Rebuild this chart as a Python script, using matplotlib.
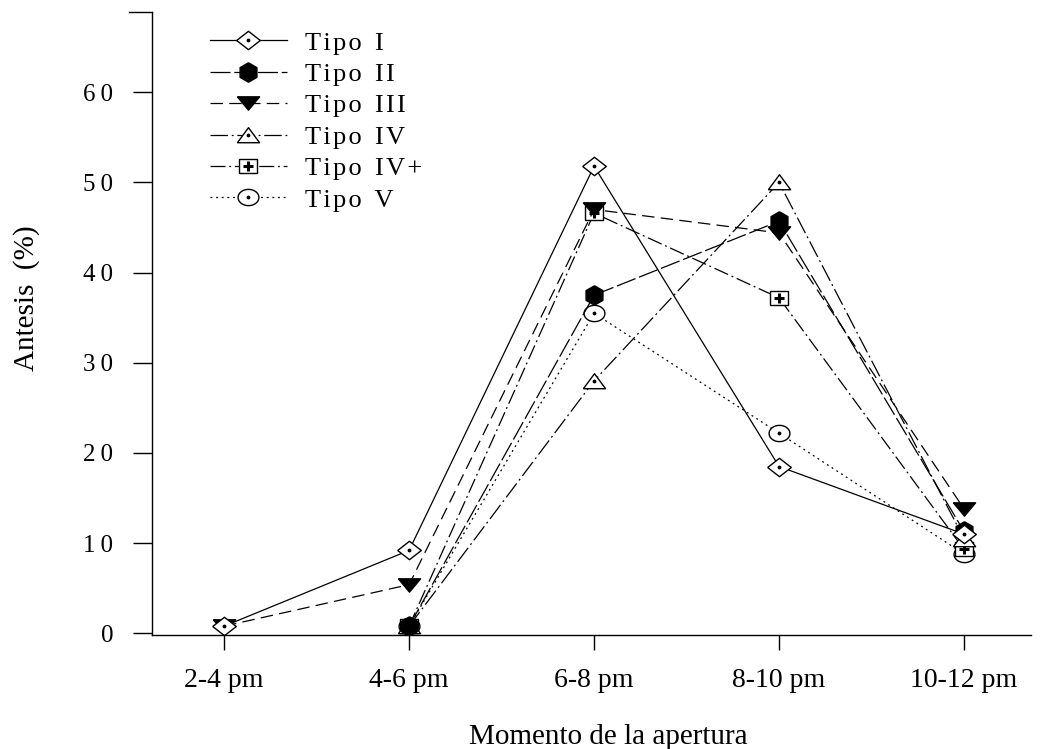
import numpy as np
import matplotlib.pyplot as plt
from matplotlib.legend_handler import HandlerTuple
from matplotlib.ticker import FuncFormatter

plt.rcParams['font.family'] = ['Liberation Serif', 'DejaVu Serif']

# ─── Datos ────────────────────────────────────────────────────────────────────
momentos = ["2-4 pm", "4-6 pm", "6-8 pm", "8-10 pm", "10-12 pm"]
tipo_i   = [0.8, 9.2, 51.8, 18.5, 11.0]
tipo_ii  = [np.nan, 0.8, 37.5, 45.7, 11.3]
tipo_iii = [0.8, 5.4, 47.0, 44.4, 13.8]
tipo_iv  = [np.nan, 0.8, 28.0, 50.0, 10.5]
tipo_ivp = [np.nan, 0.8, 46.6, 37.2, 9.3]
tipo_v   = [np.nan, 0.8, 35.5, 22.2, 8.8]

x = np.arange(len(momentos))


def spaced(s, sp="\u2009"):
    # espaciado de letras como en el original
    return sp.join(s).replace(sp + " " + sp, "  ")


# marcadores algo achatados (el original está estirado en horizontal)
k = 0.78
m_diamond = [(-1, 0), (0, k), (1, 0), (0, -k), (-1, 0)]
m_tri_up = [(-1, -0.65), (1, -0.65), (0, 0.7), (-1, -0.65)]
m_tri_dn = [(-1, 0.6), (1, 0.6), (0, -0.6), (-1, 0.6)]
m_square = [(-1, -k), (1, -k), (1, k), (-1, k), (-1, -k)]
ang = np.linspace(0, 2 * np.pi, 61)
m_ellipse = list(zip(np.cos(ang), k * np.sin(ang)))
ang6 = np.deg2rad(np.arange(90, 451, 60))
m_hex = list(zip(np.cos(ang6), 1.0 * np.sin(ang6)))

fig = plt.figure(figsize=(10.46, 7.49), dpi=100)
ax = fig.add_axes([0.1453, 0.152, 0.84, 0.832])

lw = 0.9
# (valores, etiqueta, linestyle, marker, relleno, ms, marcador central)
series = [
    (tipo_v,   "Tipo V",    (0, (1.5, 3)),          m_ellipse, False, 15, "."),
    (tipo_ivp, "Tipo IV+",  (0, (12, 3, 1.5, 3)),   m_square,  False, 13, "+"),
    (tipo_iv,  "Tipo IV",   (0, (14, 3, 1.5, 3)),   m_tri_up,  False, 16, "."),
    (tipo_iii, "Tipo III",  (0, (10, 5)),           m_tri_dn,  True,  16, None),
    (tipo_ii,  "Tipo II",   (0, (16, 3)),           m_hex,     True,  14, None),
    (tipo_i,   "Tipo I",    "-",                    m_diamond, False, 17, "."),
]

handles = {}
for vals, lab, ls, mk, filled, ms, center in series:
    ln, = ax.plot(x, vals, color="black", lw=lw, linestyle=ls, marker=mk,
                  markersize=ms, markerfacecolor="black" if filled else "white",
                  markeredgecolor="black", markeredgewidth=1.0)
    h = ln
    if center is not None:
        cms = 3.5 if center == "." else 7
        cmew = 1.0 if center == "." else 2.2
        dot, = ax.plot(x, vals, color="black", linestyle="none", marker=center,
                       markersize=cms, markeredgewidth=cmew)
        h = (ln, dot)
    handles[lab] = h

order = ["Tipo I", "Tipo II", "Tipo III", "Tipo IV", "Tipo IV+", "Tipo V"]
ax.legend([handles[k_] for k_ in order], [spaced(o, "\u200a") for o in order],
          loc="upper left", bbox_to_anchor=(0.055, 0.984), frameon=False,
          fontsize=19, handlelength=2.95, handletextpad=0.68, labelspacing=0.3,
          borderaxespad=0.0, borderpad=0.35,
          handler_map={tuple: HandlerTuple(ndivide=1)})

ax.set_xlim(-0.39, 4.36)
ax.set_ylim(-0.2, 68.9)
ax.set_xticks(x)
ax.set_xticklabels(momentos)
ax.set_yticks(np.arange(0, 70, 10))
ax.yaxis.set_major_formatter(FuncFormatter(lambda v, p: spaced(f"{v:.0f}")))

for s in ["top", "right"]:
    ax.spines[s].set_visible(False)
for s in ["left", "bottom"]:
    ax.spines[s].set_linewidth(1.0)

ax.tick_params(axis="y", direction="out", length=14, width=1.0, labelsize=18, pad=14)
ax.tick_params(axis="x", direction="out", length=11, width=1.0, labelsize=20, pad=13)
# marca superior del eje y
ax.plot([-0.0265, 0], [1, 1], transform=ax.transAxes, color="black", lw=1.0,
        clip_on=False)

ax.set_xlabel("Momento de la apertura", fontsize=21)
ax.xaxis.set_label_coords(0.519, -0.143)
ax.set_ylabel("Antesis  (%)", fontsize=21)
ax.yaxis.set_label_coords(-0.128, 0.54)

fig.savefig("out.png", dpi=100)
